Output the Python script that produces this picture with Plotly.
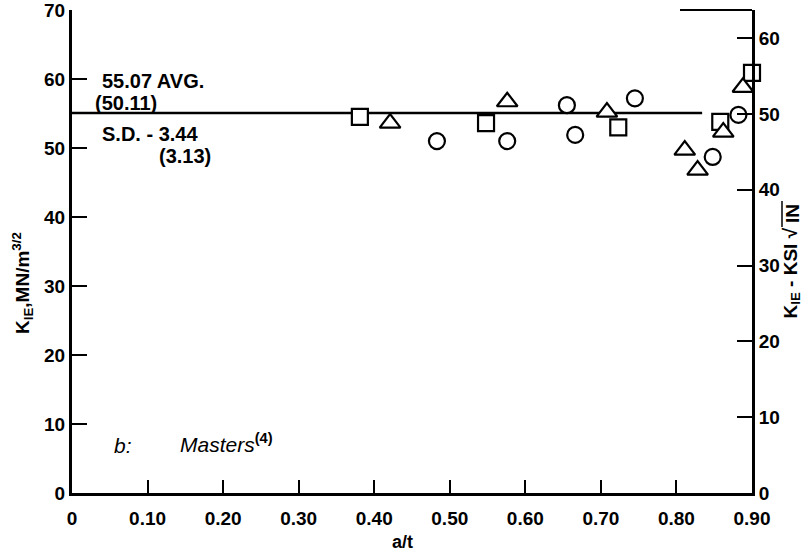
import plotly.graph_objects as go

# Fracture toughness K_IE versus crack depth ratio a/t (Masters data)
sq_at = [0.381, 0.548, 0.723, 0.858, 0.900]
sq_k = [54.5, 53.6, 53.0, 53.8, 60.9]

tri_at = [0.421, 0.576, 0.708, 0.811, 0.828, 0.862, 0.888]
tri_k = [53.6, 56.7, 55.2, 49.7, 46.8, 52.3, 58.8]

circ_at = [0.483, 0.576, 0.655, 0.666, 0.745, 0.848, 0.882]
circ_k = [51.0, 51.0, 56.2, 51.9, 57.2, 48.7, 54.8]

avg_k = 55.07          # MN/m^3/2
avg_ksi = 50.11        # KSI sqrt(IN)
sd_k = 3.44
sd_ksi = 3.13
avg_span = [0.0, 0.834]

ksi_factor = avg_k / avg_ksi   # MN/m^3/2 per KSI sqrt(IN)

x_ticks = [0, 0.1, 0.2, 0.3, 0.4, 0.5, 0.6, 0.7, 0.8, 0.9]
x_ticklabels = ["0", "0.10", "0.20", "0.30", "0.40", "0.50", "0.60", "0.70", "0.80", "0.90"]
left_ticks = [0, 10, 20, 30, 40, 50, 60, 70]
right_ticks = [0, 10, 20, 30, 40, 50, 60]

FONT = "Liberation Sans"

# plot area in pixels: x 72..752, y 10..493
PX0, PX1, PY0, PY1 = 72, 752, 10, 493


def px(x):
    return (x - PX0) / (PX1 - PX0)


def py(y):
    return (PY1 - y) / (PY1 - PY0)


fig = go.Figure()

# average line (drawn first so the white-filled markers break it)
fig.add_trace(go.Scatter(
    x=avg_span, y=[avg_k, avg_k], mode="lines",
    line=dict(color="black", width=2.5), hoverinfo="skip", showlegend=False))

marker_line = dict(color="black", width=2.2)
fig.add_trace(go.Scatter(
    x=sq_at, y=sq_k, mode="markers", showlegend=False, cliponaxis=False,
    marker=dict(symbol="square", size=16, color="white", line=marker_line)))
fig.add_trace(go.Scatter(
    x=tri_at, y=tri_k, mode="markers", showlegend=False, cliponaxis=False,
    marker=dict(symbol="triangle-up", size=18, color="white", line=marker_line)))
fig.add_trace(go.Scatter(
    x=circ_at, y=circ_k, mode="markers", showlegend=False, cliponaxis=False,
    marker=dict(symbol="circle", size=16, color="white", line=marker_line)))

# invisible trace to activate the KSI axis
fig.add_trace(go.Scatter(x=[0], y=[0], yaxis="y2", mode="markers",
                         marker=dict(opacity=0), hoverinfo="skip", showlegend=False))

tick_font = dict(family=FONT, size=19, color="black", weight="bold")
axis_common = dict(
    tickcolor="black", tickwidth=2, ticks="inside",
    showline=True, linewidth=3, linecolor="black",
    showgrid=False, zeroline=False, tickfont=tick_font,
    ticklabeloverflow="allow", automargin=False)

fig.update_layout(
    width=804, height=553,
    margin=dict(l=PX0, r=804 - PX1, t=PY0, b=553 - PY1),
    paper_bgcolor="white", plot_bgcolor="white",
    xaxis=dict(range=[0, 0.9], tickvals=x_ticks, ticktext=x_ticklabels,
               ticklen=13, ticklabelstandoff=6, **axis_common),
    yaxis=dict(range=[0, 70], tickvals=left_ticks, ticklen=15, **axis_common),
    yaxis2=dict(range=[0, 70 / ksi_factor], tickvals=right_ticks,
                overlaying="y", side="right", ticklen=15, **axis_common),
)

# short top border segment at the right-hand corner
fig.add_shape(type="line", xref="paper", yref="paper", x0=px(680), x1=1, y0=1, y1=1,
              line=dict(color="black", width=2))

ann_font = dict(family=FONT, size=20, color="black", weight="bold")
annotations = [
    dict(x=100, y=81, text=f"{avg_k:.2f} AVG."),
    dict(x=93, y=103, text=f"({avg_ksi:.2f})"),
    dict(x=100, y=134, text=f"S.D. - {sd_k:.2f}"),
    dict(x=157, y=156, text=f"({sd_ksi:.2f})"),
]
for a in annotations:
    fig.add_annotation(xref="paper", yref="paper", x=px(a["x"]), y=py(a["y"]),
                       text=a["text"], xanchor="left", yanchor="middle",
                       showarrow=False, font=ann_font)

ital = dict(family=FONT, size=21, color="black")
fig.add_annotation(xref="paper", yref="paper", x=px(112), y=py(445),
                   text="<i>b:</i>", xanchor="left", yanchor="middle",
                   showarrow=False, font=ital)
fig.add_annotation(xref="paper", yref="paper", x=px(178), y=py(443),
                   text="<i>Masters</i><sup><b>(4)</b></sup>", xanchor="left", yanchor="middle",
                   showarrow=False, font=ital)

# axis titles
title_font = dict(family=FONT, size=19, color="black", weight="bold")
fig.add_annotation(xref="paper", yref="paper", x=px(22), y=py(283),
                   text="K<sub>IE</sub>,MN/m<sup>3/2</sup>", textangle=-90,
                   xanchor="center", yanchor="middle", showarrow=False, font=title_font)
fig.add_annotation(xref="paper", yref="paper", x=px(791), y=py(226),
                   text="K<sub>IE</sub> - KSI √", textangle=-90,
                   xanchor="center", yanchor="top", showarrow=False, font=title_font)
fig.add_annotation(xref="paper", yref="paper", x=px(792), y=py(214),
                   text="IN", textangle=-90,
                   xanchor="center", yanchor="middle", showarrow=False, font=title_font)
# radical overbar above "IN"
fig.add_shape(type="line", xref="paper", yref="paper",
              x0=px(782), x1=px(782), y0=py(227), y1=py(201),
              line=dict(color="black", width=1.5))
fig.add_annotation(xref="paper", yref="paper", x=px(402), y=py(542),
                   text="a/t", xanchor="center", yanchor="middle", showarrow=False,
                   font=dict(family=FONT, size=18, color="black", weight="bold"))

fig.write_html("out.html")
